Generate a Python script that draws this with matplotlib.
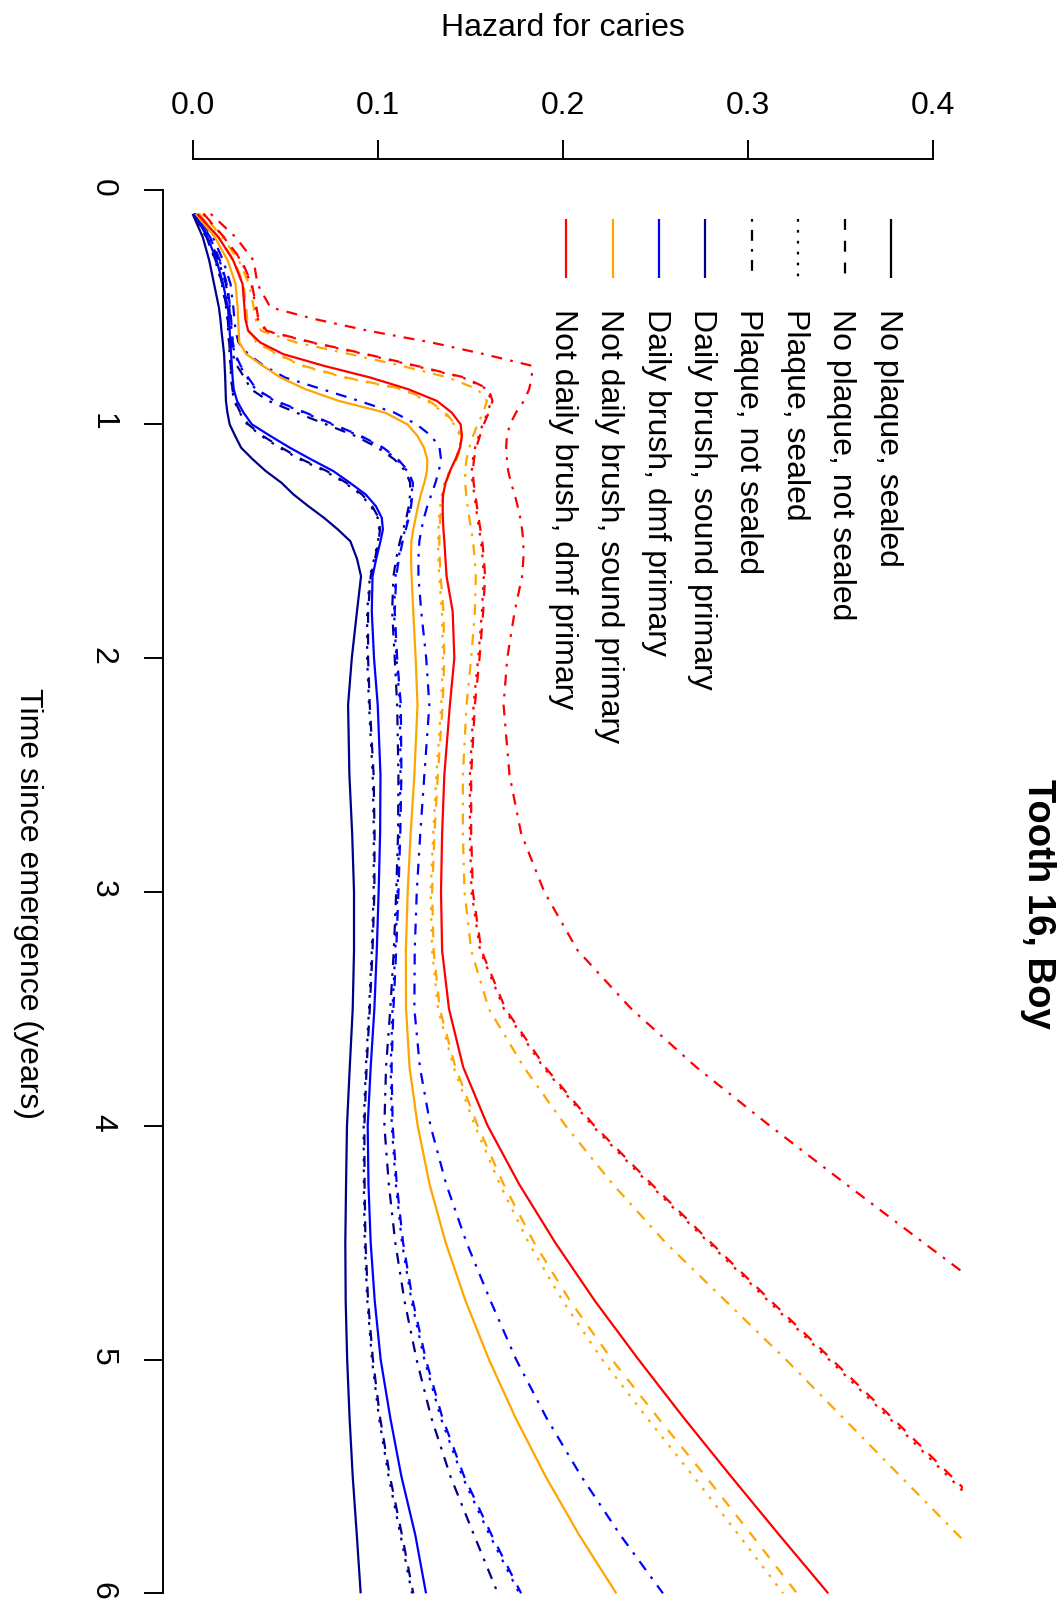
import matplotlib
matplotlib.use("Agg")
import matplotlib.pyplot as plt
from matplotlib.lines import Line2D
from matplotlib.ticker import FormatStrFormatter

plt.rcParams['font.family'] = ['Liberation Sans', 'DejaVu Sans']

# ---- data: hazard for caries by time since emergence (tooth 16, boy) ----
time_years = [0.1, 0.2, 0.3, 0.4, 0.5, 0.55, 0.6, 0.65, 0.7, 0.75, 0.8, 0.85, 0.9, 0.95,
              1.0, 1.05, 1.1, 1.15, 1.2, 1.25, 1.3, 1.35, 1.4, 1.45, 1.5, 1.575, 1.65,
              1.8, 2.0, 2.2, 2.5, 2.75, 3.0, 3.25, 3.5, 3.75, 4.0, 4.25, 4.5, 4.75,
              5.0, 5.25, 5.5, 5.75, 6.0]

# Daily brush, sound primary (darkblue)
haz_db_sound_noplaque_sealed = [
    0.0000, 0.0055, 0.0090, 0.0116, 0.0142, 0.0150, 0.0156, 0.0163, 0.0170, 0.0173, 0.0176,
    0.0178, 0.0180, 0.0188, 0.0200, 0.0230, 0.0262, 0.0325, 0.0395, 0.0480, 0.0545,
    0.0625, 0.0710, 0.0785, 0.0852, 0.0888, 0.0910, 0.0888, 0.0860, 0.0840, 0.0847, 0.0862,
    0.0872, 0.0872, 0.0865, 0.0849, 0.0834, 0.0829, 0.0825, 0.0827, 0.0835, 0.0848, 0.0865,
    0.0887, 0.0908]
haz_db_sound_noplaque_notsealed = [
    0.0005, 0.0075, 0.0125, 0.0160, 0.0183, 0.0190, 0.0194, 0.0198, 0.0202, 0.0206, 0.0210,
    0.0215, 0.0228, 0.0258, 0.0300, 0.0380, 0.0480, 0.0590, 0.0725, 0.0830, 0.0915,
    0.0970, 0.1005, 0.1012, 0.1005, 0.0985, 0.0962, 0.0948, 0.0948, 0.0957, 0.0978, 0.0983,
    0.0982, 0.0972, 0.0957, 0.0940, 0.0928, 0.0929, 0.0934, 0.0948, 0.0974, 0.1013, 0.1066,
    0.1131, 0.1192]
haz_db_sound_plaque_sealed = [
    0.0005, 0.0074, 0.0123, 0.0158, 0.0181, 0.0188, 0.0192, 0.0196, 0.0200, 0.0204, 0.0208,
    0.0213, 0.0225, 0.0254, 0.0295, 0.0372, 0.0470, 0.0580, 0.0715, 0.0822, 0.0908,
    0.0963, 0.1000, 0.1008, 0.1002, 0.0981, 0.0958, 0.0943, 0.0943, 0.0953, 0.0973, 0.0979,
    0.0978, 0.0968, 0.0953, 0.0936, 0.0924, 0.0925, 0.0930, 0.0944, 0.0969, 0.1007, 0.1059,
    0.1123, 0.1185]
haz_db_sound_plaque_notsealed = [
    0.0008, 0.0090, 0.0140, 0.0180, 0.0198, 0.0203, 0.0207, 0.0211, 0.0216, 0.0240, 0.0280,
    0.0315, 0.0410, 0.0560, 0.0720, 0.0880, 0.1000, 0.1090, 0.1150, 0.1175, 0.1175,
    0.1168, 0.1155, 0.1138, 0.1120, 0.1100, 0.1085, 0.1078, 0.1092, 0.1105, 0.1112, 0.1110,
    0.1100, 0.1087, 0.1068, 0.1045, 0.1036, 0.1060, 0.1095, 0.1145, 0.1210, 0.1290, 0.1393,
    0.1520, 0.1649]

# Daily brush, dmf primary (blue)
haz_db_dmf_noplaque_sealed = [
    0.0008, 0.0080, 0.0130, 0.0165, 0.0190, 0.0196, 0.0200, 0.0204, 0.0208, 0.0212, 0.0216,
    0.0222, 0.0240, 0.0275, 0.0320, 0.0420, 0.0525, 0.0640, 0.0760, 0.0850, 0.0935,
    0.0990, 0.1022, 0.1028, 0.1015, 0.0992, 0.0972, 0.0968, 0.0980, 0.1000, 0.1015, 0.1013,
    0.1005, 0.0995, 0.0982, 0.0962, 0.0946, 0.0950, 0.0962, 0.0984, 0.1016, 0.1068, 0.1128,
    0.1203, 0.1261]
haz_db_dmf_noplaque_notsealed = [
    0.0010, 0.0095, 0.0148, 0.0186, 0.0203, 0.0208, 0.0212, 0.0217, 0.0230, 0.0260, 0.0300,
    0.0345, 0.0450, 0.0610, 0.0760, 0.0910, 0.1030, 0.1110, 0.1165, 0.1190, 0.1188,
    0.1180, 0.1168, 0.1152, 0.1135, 0.1115, 0.1100, 0.1092, 0.1105, 0.1125, 0.1128, 0.1122,
    0.1112, 0.1100, 0.1085, 0.1075, 0.1081, 0.1103, 0.1137, 0.1190, 0.1260, 0.1350, 0.1467,
    0.1615, 0.1775]
haz_db_dmf_plaque_sealed = [
    0.0010, 0.0094, 0.0146, 0.0184, 0.0201, 0.0206, 0.0210, 0.0215, 0.0227, 0.0256, 0.0295,
    0.0340, 0.0443, 0.0602, 0.0752, 0.0902, 0.1022, 0.1103, 0.1160, 0.1186, 0.1185,
    0.1176, 0.1164, 0.1148, 0.1131, 0.1111, 0.1096, 0.1088, 0.1101, 0.1120, 0.1123, 0.1117,
    0.1107, 0.1095, 0.1080, 0.1070, 0.1076, 0.1098, 0.1131, 0.1183, 0.1252, 0.1341, 0.1457,
    0.1604, 0.1765]
haz_db_dmf_plaque_notsealed = [
    0.0015, 0.0110, 0.0165, 0.0205, 0.0220, 0.0226, 0.0232, 0.0248, 0.0300, 0.0385, 0.0500,
    0.0700, 0.0900, 0.1090, 0.1210, 0.1290, 0.1334, 0.1342, 0.1330, 0.1312, 0.1290,
    0.1268, 0.1250, 0.1236, 0.1225, 0.1220, 0.1220, 0.1235, 0.1262, 0.1279, 0.1252, 0.1230,
    0.1211, 0.1200, 0.1198, 0.1228, 0.1285, 0.1370, 0.1480, 0.1610, 0.1748, 0.1912, 0.2100,
    0.2310, 0.2541]

# Not daily brush, sound primary (orange)
haz_ndb_sound_noplaque_sealed = [
    0.0017, 0.0120, 0.0190, 0.0232, 0.0243, 0.0246, 0.0249, 0.0252, 0.0290, 0.0380, 0.0475,
    0.0610, 0.0790, 0.1040, 0.1160, 0.1215, 0.1250, 0.1268, 0.1266, 0.1252, 0.1233,
    0.1218, 0.1205, 0.1192, 0.1182, 0.1180, 0.1183, 0.1192, 0.1205, 0.1215, 0.1198, 0.1178,
    0.1162, 0.1152, 0.1153, 0.1172, 0.1216, 0.1280, 0.1367, 0.1475, 0.1601, 0.1745, 0.1907,
    0.2088, 0.2289]
haz_ndb_sound_noplaque_notsealed = [
    0.0035, 0.0140, 0.0225, 0.0275, 0.0290, 0.0295, 0.0305, 0.0350, 0.0460, 0.0600, 0.0830,
    0.1140, 0.1278, 0.1365, 0.1420, 0.1453, 0.1450, 0.1426, 0.1394, 0.1366, 0.1354,
    0.1345, 0.1338, 0.1335, 0.1333, 0.1335, 0.1340, 0.1355, 0.1360, 0.1351, 0.1325, 0.1307,
    0.1294, 0.1302, 0.1335, 0.1420, 0.1540, 0.1680, 0.1845, 0.2040, 0.2265, 0.2515, 0.2772,
    0.3020, 0.3265]
haz_ndb_sound_plaque_sealed = [
    0.0034, 0.0138, 0.0222, 0.0272, 0.0287, 0.0292, 0.0302, 0.0345, 0.0452, 0.0590, 0.0820,
    0.1128, 0.1268, 0.1356, 0.1412, 0.1446, 0.1444, 0.1420, 0.1388, 0.1360, 0.1347,
    0.1338, 0.1331, 0.1328, 0.1326, 0.1328, 0.1332, 0.1347, 0.1352, 0.1343, 0.1317, 0.1300,
    0.1286, 0.1294, 0.1326, 0.1410, 0.1525, 0.1660, 0.1815, 0.2000, 0.2213, 0.2455, 0.2706,
    0.2950, 0.3190]
haz_ndb_sound_plaque_notsealed = [
    0.0055, 0.0160, 0.0250, 0.0305, 0.0330, 0.0340, 0.0370, 0.0560, 0.0850, 0.1130, 0.1380,
    0.1540, 0.1590, 0.1570, 0.1540, 0.1515, 0.1495, 0.1480, 0.1472, 0.1472, 0.1478,
    0.1486, 0.1495, 0.1505, 0.1515, 0.1524, 0.1530, 0.1525, 0.1505, 0.1480, 0.1460, 0.1460,
    0.1469, 0.1505, 0.1600, 0.1790, 0.2015, 0.2270, 0.2555, 0.2880, 0.3205, 0.3515, 0.3825,
    0.4135, 0.4445]

# Not daily brush, dmf primary (red)
haz_ndb_dmf_noplaque_sealed = [
    0.0026, 0.0140, 0.0220, 0.0270, 0.0280, 0.0285, 0.0300, 0.0365, 0.0490, 0.0710, 0.0960,
    0.1165, 0.1320, 0.1400, 0.1448, 0.1455, 0.1445, 0.1420, 0.1390, 0.1367, 0.1353,
    0.1351, 0.1352, 0.1355, 0.1360, 0.1366, 0.1372, 0.1405, 0.1414, 0.1390, 0.1360, 0.1348,
    0.1342, 0.1348, 0.1385, 0.1462, 0.1594, 0.1764, 0.1959, 0.2174, 0.2409, 0.2654, 0.2909,
    0.3169, 0.3434]
haz_ndb_dmf_noplaque_notsealed = [
    0.0060, 0.0170, 0.0265, 0.0320, 0.0345, 0.0355, 0.0400, 0.0650, 0.0940, 0.1210, 0.1470,
    0.1600, 0.1620, 0.1600, 0.1573, 0.1552, 0.1532, 0.1520, 0.1514, 0.1518, 0.1528,
    0.1536, 0.1545, 0.1555, 0.1565, 0.1574, 0.1580, 0.1570, 0.1550, 0.1525, 0.1505, 0.1505,
    0.1514, 0.1560, 0.1690, 0.1905, 0.2170, 0.2480, 0.2800, 0.3125, 0.3453, 0.3780, 0.4100,
    0.4420, 0.4750]
haz_ndb_dmf_plaque_sealed = [
    0.0059, 0.0168, 0.0262, 0.0317, 0.0342, 0.0352, 0.0395, 0.0640, 0.0930, 0.1200, 0.1460,
    0.1592, 0.1613, 0.1594, 0.1567, 0.1546, 0.1526, 0.1514, 0.1508, 0.1512, 0.1522,
    0.1530, 0.1539, 0.1548, 0.1558, 0.1567, 0.1573, 0.1563, 0.1543, 0.1518, 0.1498, 0.1498,
    0.1507, 0.1553, 0.1682, 0.1895, 0.2160, 0.2468, 0.2788, 0.3111, 0.3438, 0.3763, 0.4082,
    0.4400, 0.4730]
haz_ndb_dmf_plaque_notsealed = [
    0.0098, 0.0233, 0.0330, 0.0350, 0.0420, 0.0660, 0.0950, 0.1290, 0.1575, 0.1835, 0.1832,
    0.1818, 0.1790, 0.1747, 0.1715, 0.1698, 0.1694, 0.1698, 0.1705, 0.1720, 0.1740,
    0.1756, 0.1770, 0.1780, 0.1787, 0.1787, 0.1780, 0.1740, 0.1700, 0.1680, 0.1712, 0.1775,
    0.1900, 0.2080, 0.2370, 0.2722, 0.3118, 0.3530, 0.3948, 0.4370, 0.4800, 0.5230, 0.5650,
    0.6080, 0.6500]

hazard_ticks = [0.0, 0.1, 0.2, 0.3, 0.4]
time_ticks = [0, 1, 2, 3, 4, 5, 6]

sealing_labels = ["No plaque, sealed", "No plaque, not sealed",
                  "Plaque, sealed", "Plaque, not sealed"]
group_labels = ["Daily brush, sound primary", "Daily brush, dmf primary",
                "Not daily brush, sound primary", "Not daily brush, dmf primary"]

# ---- styling ----
group_colors = ["darkblue", "blue", "orange", "red"]
LW = 1.6
line_styles = ["-", (0, (4.9, 4.9)), (0, (1.23, 3.68)), (0, (1.23, 3.68, 4.9, 3.68))]

curves = [
    [haz_db_sound_noplaque_sealed, haz_db_sound_noplaque_notsealed,
     haz_db_sound_plaque_sealed, haz_db_sound_plaque_notsealed],
    [haz_db_dmf_noplaque_sealed, haz_db_dmf_noplaque_notsealed,
     haz_db_dmf_plaque_sealed, haz_db_dmf_plaque_notsealed],
    [haz_ndb_sound_noplaque_sealed, haz_ndb_sound_noplaque_notsealed,
     haz_ndb_sound_plaque_sealed, haz_ndb_sound_plaque_notsealed],
    [haz_ndb_dmf_noplaque_sealed, haz_ndb_dmf_noplaque_notsealed,
     haz_ndb_dmf_plaque_sealed, haz_ndb_dmf_plaque_notsealed],
]

W, H, DPI = 1064, 1605, 100
FS = 23

fig = plt.figure(figsize=(W / DPI, H / DPI), dpi=DPI)
fig.patch.set_facecolor("white")


def fx(px):
    return px / W


def fy(py):
    return 1 - py / H


# plot region in pixels (the lower end runs past the bottom of the page)
p_left, p_right, p_top, p_bottom = 163.0, 962.6, 158.7, 1648.5
ax = fig.add_axes([fx(p_left), fy(p_bottom), (p_right - p_left) / W, (p_bottom - p_top) / H])
ax.set_xlim(-0.016, 0.416)
ax.set_ylim(6.236, -0.136)
ax.set_facecolor("none")

for color, group in zip(group_colors, curves):
    for style, values in zip(line_styles, group):
        ax.plot(values, time_years, color=color, lw=LW, ls=style,
                dash_capstyle="butt", solid_capstyle="butt", solid_joinstyle="round")

# axes: hazard along the top, time down the left side
for side in ("right", "bottom"):
    ax.spines[side].set_visible(False)
ax.spines["top"].set_bounds(hazard_ticks[0], hazard_ticks[-1])
ax.spines["left"].set_bounds(time_ticks[0], time_ticks[-1])
for side in ("top", "left"):
    ax.spines[side].set_linewidth(1.4)

ax.xaxis.set_ticks_position("top")
ax.set_xticks(hazard_ticks)
ax.xaxis.set_major_formatter(FormatStrFormatter("%.1f"))
ax.tick_params(axis="x", direction="out", length=13.8, width=1.4, pad=13.0, labelsize=FS)

ax.set_yticks(time_ticks)
ax.tick_params(axis="y", direction="out", length=13.8, width=1.4, pad=19.0, labelsize=FS,
               labelrotation=-90)

# axis titles and main title
fig.text(fx(563), fy(35.5), "Hazard for caries", fontsize=FS, ha="center", va="baseline")
fig.text(fx(20), fy(904), "Time since emergence (years)", fontsize=FS, ha="center",
         va="baseline", rotation=-90, rotation_mode="anchor")
fig.text(fx(1028), fy(904), "Tooth 16, Boy", fontsize=27.5, fontweight="bold", ha="center",
         va="baseline", rotation=-90, rotation_mode="anchor")

# legend: line-type entries in black, then colour entries
legend_x0, legend_step = 891.0, 46.4
seg_top, seg_bottom, text_top = 219.0, 278.0, 309.0
entries = [(lab, "black", st) for lab, st in zip(sealing_labels, line_styles)] + \
          [(lab, col, "-") for lab, col in zip(group_labels, group_colors)]
for i, (lab, col, st) in enumerate(entries):
    x = legend_x0 - i * legend_step
    fig.add_artist(Line2D([fx(x), fx(x)], [fy(seg_top), fy(seg_bottom)],
                          transform=fig.transFigure, color=col, lw=LW, ls=st,
                          dash_capstyle="butt", solid_capstyle="butt"))
    fig.text(fx(x - 11.4), fy(text_top), lab, fontsize=FS, ha="left", va="baseline",
             rotation=-90, rotation_mode="anchor")

fig.savefig("out.png", dpi=DPI, facecolor="white")
